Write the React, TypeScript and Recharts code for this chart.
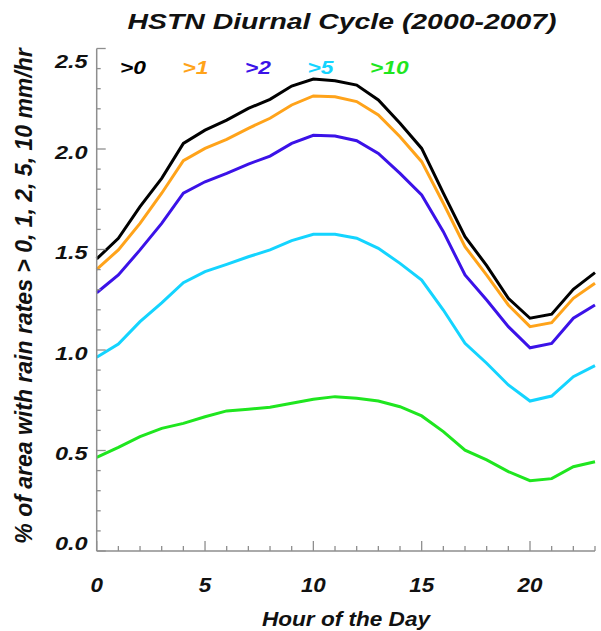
import React from 'react';
import { LineChart, Line, XAxis, YAxis } from 'recharts';

// Hour of the day (local), 0..23
const hours = [0, 1, 2, 3, 4, 5, 6, 7, 8, 9, 10, 11, 12, 13, 14, 15, 16, 17, 18, 19, 20, 21, 22, 23];

// % of area with rain rate above each threshold
const gt0 = [1.453, 1.556, 1.713, 1.854, 2.028, 2.094, 2.144, 2.202, 2.247, 2.313, 2.348, 2.34, 2.318, 2.244, 2.128, 2.003, 1.78, 1.564, 1.42, 1.257, 1.158, 1.178, 1.302, 1.385];
const gt1 = [1.401, 1.498, 1.63, 1.78, 1.942, 2.003, 2.048, 2.103, 2.153, 2.219, 2.264, 2.26, 2.236, 2.169, 2.061, 1.937, 1.73, 1.514, 1.373, 1.224, 1.116, 1.136, 1.257, 1.332];
const gt2 = [1.285, 1.373, 1.498, 1.63, 1.78, 1.837, 1.879, 1.925, 1.965, 2.028, 2.068, 2.065, 2.041, 1.978, 1.879, 1.771, 1.589, 1.373, 1.249, 1.116, 1.011, 1.033, 1.158, 1.224];
const gt5 = [0.964, 1.03, 1.141, 1.235, 1.335, 1.39, 1.426, 1.464, 1.498, 1.544, 1.576, 1.576, 1.556, 1.506, 1.431, 1.348, 1.199, 1.033, 0.934, 0.826, 0.746, 0.771, 0.867, 0.922];
const gt10 = [0.466, 0.516, 0.569, 0.61, 0.635, 0.668, 0.697, 0.705, 0.715, 0.735, 0.755, 0.768, 0.76, 0.746, 0.718, 0.672, 0.594, 0.502, 0.453, 0.395, 0.35, 0.36, 0.419, 0.444];

const seriesNames = ['>0', '>1', '>2', '>5', '>10'];
const seriesKeys = ['gt0', 'gt1', 'gt2', 'gt5', 'gt10'];
const seriesColors = ['#000000', '#ffa31a', '#3b12e8', '#14d4ff', '#1fe61f'];
const seriesValues = [gt0, gt1, gt2, gt5, gt10];

// Tick positions (every hour / every 0.1) and the labelled subset
const xTicks = hours;
const xLabelTicks = [0, 5, 10, 15, 20];
const yTicks = [0, 0.1, 0.2, 0.3, 0.4, 0.5, 0.6, 0.7, 0.8, 0.9, 1, 1.1, 1.2, 1.3, 1.4, 1.5, 1.6, 1.7, 1.8, 1.9, 2, 2.1, 2.2, 2.3, 2.4, 2.5];
const yLabelTicks = [0, 0.5, 1, 1.5, 2, 2.5];
const yLabelText = ['0.0', '0.5', '1.0', '1.5', '2.0', '2.5'];

const title = 'HSTN Diurnal Cycle (2000-2007)';
const xTitle = 'Hour of the Day';
const yTitle = '% of area with rain rates > 0, 1, 2, 5, 10 mm/hr';

const data = hours.map((h, i) => {
  const row: Record<string, number> = { hour: h };
  seriesKeys.forEach((k, s) => {
    row[k] = seriesValues[s][i];
  });
  return row;
});

const W = 601;
const H = 631;
const AXIS = '#8e8e8e';
const FONT = '"Liberation Sans", Arial, Helvetica, sans-serif';
const textStyle = { fontFamily: FONT, fontWeight: 'bold' as const, fontStyle: 'italic' as const, fill: '#111' };

const isMajor = (list: number[], v: number) => list.some((t) => Math.abs(t - v) < 1e-6);

const BottomTick = (props: any) => {
  const { x, y, payload } = props;
  const v = payload.value;
  const major = isMajor(xLabelTicks, v);
  return (
    <g>
      <line x1={x} y1={y} x2={x} y2={y - (major ? 10 : 5)} stroke={AXIS} strokeWidth={1.3} />
      {major && (
        <text transform={`translate(${x},${y + 41}) scale(1.12,1)`} textAnchor="middle" fontSize={20} {...textStyle}>
          {v}
        </text>
      )}
    </g>
  );
};

const TopTick = (props: any) => {
  const { x, y, payload } = props;
  const major = isMajor(xLabelTicks, payload.value);
  return <line x1={x} y1={y} x2={x} y2={y + (major ? 8 : 4)} stroke={AXIS} strokeWidth={1.3} />;
};

const LeftTick = (props: any) => {
  const { x, y, payload } = props;
  const v = payload.value;
  const idx = yLabelTicks.findIndex((t) => Math.abs(t - v) < 1e-6);
  const major = idx >= 0;
  // top and bottom labels are nudged inside the frame
  const shift = idx === yLabelTicks.length - 1 ? 13 : idx === 0 ? -8 : 3;
  return (
    <g>
      <line x1={x} y1={y} x2={x + (major ? 9 : 4)} y2={y} stroke={AXIS} strokeWidth={1.3} />
      {major && (
        <text transform={`translate(${x - 9},${y + shift + 6.8}) scale(1.24,1)`} textAnchor="end" fontSize={19} {...textStyle}>
          {yLabelText[idx]}
        </text>
      )}
    </g>
  );
};

const RightTick = (props: any) => {
  const { x, y, payload } = props;
  const major = isMajor(yLabelTicks, payload.value);
  return <line x1={x} y1={y} x2={x - (major ? 8 : 4)} y2={y} stroke={AXIS} strokeWidth={1.3} />;
};

export default function App() {
  return (
    <div style={{ position: 'absolute', left: 0, top: 0, width: W, height: H, background: '#fff' }}>
      <LineChart width={W} height={H} data={data} margin={{ top: 48.5, right: 6, bottom: 0, left: 0 }}>
        <XAxis
          dataKey="hour"
          type="number"
          domain={[0, 23]}
          ticks={xTicks}
          interval={0}
          height={80}
          tickSize={0}
          tickMargin={0}
          tickLine={false}
          axisLine={{ stroke: AXIS, strokeWidth: 1.5 }}
          tick={<BottomTick />}
        />
        <XAxis
          xAxisId="top"
          orientation="top"
          dataKey="hour"
          type="number"
          domain={[0, 23]}
          ticks={xTicks}
          interval={0}
          height={0}
          tickSize={0}
          tickMargin={0}
          tickLine={false}
          axisLine={{ stroke: AXIS, strokeWidth: 1.5 }}
          tick={<TopTick />}
        />
        <YAxis
          type="number"
          domain={[0, 2.5]}
          ticks={yTicks}
          interval={0}
          width={96.7}
          tickSize={0}
          tickMargin={0}
          tickLine={false}
          axisLine={{ stroke: AXIS, strokeWidth: 1.5 }}
          tick={<LeftTick />}
        />
        <YAxis
          yAxisId="right"
          orientation="right"
          type="number"
          domain={[0, 2.5]}
          ticks={yTicks}
          interval={0}
          width={0}
          tickSize={0}
          tickMargin={0}
          tickLine={false}
          axisLine={{ stroke: AXIS, strokeWidth: 1.5 }}
          tick={<RightTick />}
        />
        {seriesKeys.map((k, s) => (
          <Line
            key={k}
            dataKey={k}
            name={seriesNames[s]}
            type="linear"
            stroke={seriesColors[s]}
            strokeWidth={3}
            dot={false}
            activeDot={false}
            isAnimationActive={false}
          />
        ))}
      </LineChart>
      <svg
        width={W}
        height={H}
        style={{ position: 'absolute', left: 0, top: 0, pointerEvents: 'none' }}
      >
        <text x={342} y={29} textAnchor="middle" fontSize={22} textLength={429} lengthAdjust="spacingAndGlyphs" {...textStyle}>
          {title}
        </text>
        <text x={346} y={626} textAnchor="middle" fontSize={21} textLength={168} lengthAdjust="spacingAndGlyphs" {...textStyle}>
          {xTitle}
        </text>
        <text transform="translate(32,296) rotate(-90)" textAnchor="middle" fontSize={23} {...textStyle}>
          {yTitle}
        </text>
        {seriesNames.map((n, s) => (
          <text
            key={n}
            transform={`translate(${120 + s * 62.5},74) scale(1.2,1)`}
            fontSize={19}
            {...textStyle}
            fill={seriesColors[s]}
          >
            {n}
          </text>
        ))}
      </svg>
    </div>
  );
}
